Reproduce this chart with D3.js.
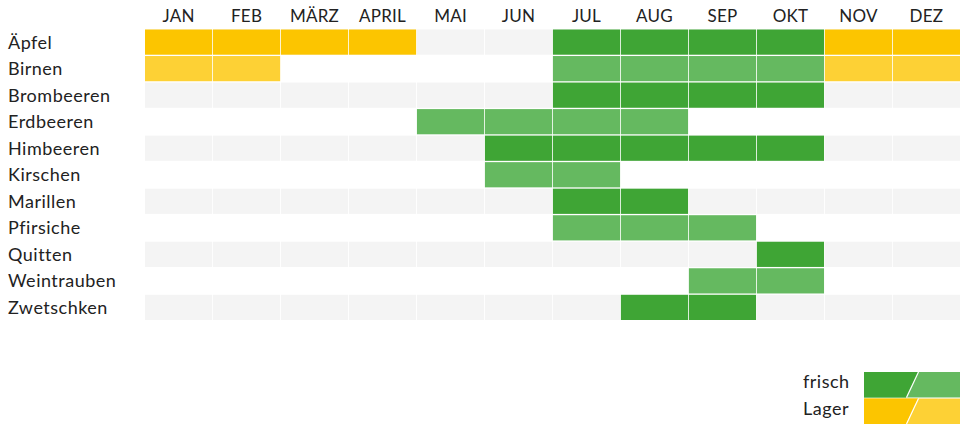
<!DOCTYPE html>
<html lang="de">
<head>
<meta charset="UTF-8">
<title>Saisonkalender Obst</title>
<style>
  body { margin: 0; background: #fff; }
  svg { display: block; font-family: Lato, "Open Sans", sans-serif; }
  .lbl { fill: #222; font-size: 18px; letter-spacing: 0.5px; }
  .mon { fill: #222; font-size: 17px; letter-spacing: 0.2px; }
</style>
</head>
<body>
<div id="wrapper"></div>
<script src="https://cdnjs.cloudflare.com/ajax/libs/d3/7.8.5/d3.min.js"></script>
<script>
// months across the top
const months = ["JAN", "FEB", "MÄRZ", "APRIL", "MAI", "JUN", "JUL", "AUG", "SEP", "OKT", "NOV", "DEZ"]
const fruits = ["Äpfel", "Birnen", "Brombeeren", "Erdbeeren", "Himbeeren", "Kirschen",
  "Marillen", "Pfirsiche", "Quitten", "Weintrauben", "Zwetschken"]

// per fruit: f = frisch, l = Lager, . = nothing (one char per month)
const season = [
  "llll..ffffll",
  "ll....ffffll",
  "......ffff..",
  "....ffff....",
  ".....fffff..",
  ".....ff.....",
  "......ff....",
  "......fff...",
  ".........f..",
  "........ff..",
  ".......ff..."
]
const legendKeys = ["frisch", "Lager"]

const colors = {
  f: ["#3fa535", "#65b960"],
  l: ["#fcc500", "#fdd135"]
}

const dims = { width: 962, height: 424, left: 145, right: 2, top: 29.5, rowsHeight: 290.5 }

const svg = d3.select("#wrapper").append("svg")
  .attr("width", dims.width)
  .attr("height", dims.height)

const x = d3.scaleBand()
  .domain(months)
  .range([dims.left, dims.width - dims.right])
  .paddingInner(0.012)

const y = d3.scaleBand()
  .domain(fruits)
  .range([dims.top, dims.top + dims.rowsHeight])
  .paddingInner(0.05)

// grey stripe rows
fruits.forEach(function(fr, i) {
  if (i % 2 !== 0) return
  svg.selectAll(null)
    .data(months)
    .join("rect")
    .attr("x", d => x(d))
    .attr("y", y(fr))
    .attr("width", x.bandwidth())
    .attr("height", y.bandwidth())
    .attr("fill", "#f4f4f4")
})

// cells
const cells = []
fruits.forEach(function(fr, i) {
  season[i].split("").forEach(function(c, j) {
    if (c !== ".") cells.push({ fruit: fr, month: months[j], type: c, shade: i % 2 })
  })
})

svg.selectAll("rect.cell")
  .data(cells)
  .join("rect")
  .attr("class", "cell")
  .attr("x", d => x(d.month))
  .attr("y", d => y(d.fruit))
  .attr("width", x.bandwidth())
  .attr("height", y.bandwidth())
  .attr("fill", d => colors[d.type][d.shade])

// month labels
svg.selectAll("text.month")
  .data(months)
  .join("text")
  .attr("class", "mon")
  .attr("x", d => x(d) + x.bandwidth() / 2)
  .attr("y", 22)
  .attr("text-anchor", "middle")
  .text(d => d)

// fruit labels
svg.selectAll("text.fruit")
  .data(fruits)
  .join("text")
  .attr("class", "lbl")
  .attr("x", 8)
  .attr("y", d => y(d) + y.bandwidth() / 2)
  .attr("dy", "0.36em")
  .text(d => d)

// legend
const ly = d3.scaleBand().domain(legendKeys).range([372, 424]).paddingInner(0.04)
const lx0 = 864, lx1 = 960
const leg = svg.selectAll("g.leg")
  .data(legendKeys)
  .join("g")
  .attr("transform", d => `translate(0,${ly(d)})`)

leg.append("rect")
  .attr("x", lx0).attr("width", lx1 - lx0)
  .attr("height", ly.bandwidth())
  .attr("fill", d => colors[d === "frisch" ? "f" : "l"][1])

leg.append("path")
  .attr("d", `M${lx0},0 H918 L906,${ly.bandwidth()} H${lx0} Z`)
  .attr("fill", d => colors[d === "frisch" ? "f" : "l"][0])

leg.append("line")
  .attr("x1", 918.5).attr("y1", 0)
  .attr("x2", 906.5).attr("y2", ly.bandwidth())
  .attr("stroke", "#fff").attr("stroke-width", 1.2)

leg.append("text")
  .attr("class", "lbl")
  .attr("x", 803)
  .attr("y", ly.bandwidth() / 2)
  .attr("dy", "0.2em")
  .text(d => d)
</script>
</body>
</html>
